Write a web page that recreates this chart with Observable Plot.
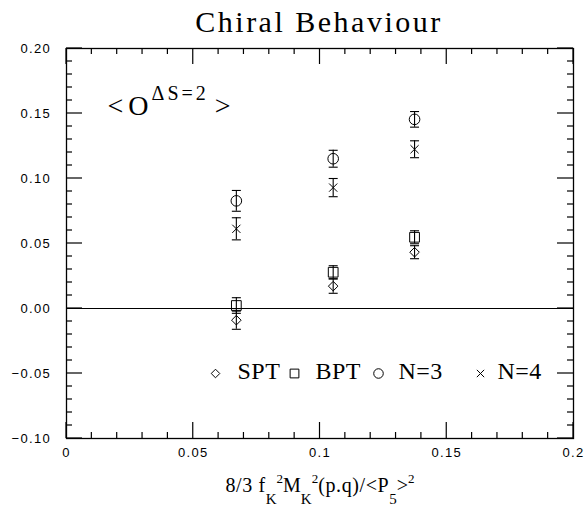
<!DOCTYPE html>
<html><head><meta charset="utf-8">
<script src="https://cdn.jsdelivr.net/npm/d3@7"></script>
<script src="https://cdn.jsdelivr.net/npm/@observablehq/plot@0.6"></script>
<style>body{margin:0;background:#fff} svg{display:block}</style>
</head><body><div id="chart"></div>
<script>
const xValues = [0.0670, 0.1052, 0.1373];
const sptValues = [-0.009, 0.0172, 0.0433];
const sptErrors = [0.007, 0.0055, 0.005];
const bptValues = [0.0023, 0.0279, 0.0548];
const bptErrors = [0.006, 0.005, 0.005];
const n3Values = [0.0828, 0.1152, 0.1455];
const n3Errors = [0.008, 0.0065, 0.006];
const n4Values = [0.0613, 0.0930, 0.1225];
const n4Errors = [0.0085, 0.007, 0.0065];
const xTickValues = [0, 0.05, 0.1, 0.15, 0.2];
const xTickLabels = ["0", "0.05", "0.1", "0.15", "0.2"];
const xMinorTicks = [0.01, 0.02, 0.03, 0.04, 0.06, 0.07, 0.08, 0.09, 0.11, 0.12, 0.13, 0.14, 0.16, 0.17, 0.18, 0.19];
const yTickValues = [-0.1, -0.05, 0, 0.05, 0.1, 0.15, 0.2];
const yTickLabels = ["\u22120.10", "\u22120.05", "0.00", "0.05", "0.10", "0.15", "0.20"];
const yMinorTicks = [-0.09, -0.08, -0.07, -0.06, -0.04, -0.03, -0.02, -0.01, 0.01, 0.02, 0.03, 0.04, 0.06, 0.07, 0.08, 0.09, 0.11, 0.12, 0.13, 0.14, 0.16, 0.17, 0.18, 0.19];
const legendLabels = ["SPT", "BPT", "N=3", "N=4"];
const titleText = "Chiral Behaviour";
const xLabelKey = "8/3 fK2MK2(p.q)/<P5>2";
const insetKey = "<O\u0394S=2>";

const serif = "Liberation Serif, Times New Roman, serif";
const sans = "Liberation Sans, Arial, sans-serif";

const W = 585, H = 510, mL = 66, mR = 12, mT = 48, mB = 72;
const innerW = W - mL - mR, innerH = H - mT - mB;

const series = [
  {name: "SPT", symbol: "diamond2", r: 4.3, values: sptValues, errors: sptErrors},
  {name: "BPT", symbol: "square2", r: 6.2, values: bptValues, errors: bptErrors},
  {name: "N=3", symbol: "circle", r: 5.3, values: n3Values, errors: n3Errors},
  {name: "N=4", symbol: "times", r: 3.8, values: n4Values, errors: n4Errors}
];
const rows = series.flatMap(s => xValues.map((x, i) => ({series: s.name, x, y: s.values[i], err: s.errors[i]})));

const capSymbol = {draw(context, size) { const w = Math.sqrt(size / Math.PI); context.moveTo(-w, 0); context.lineTo(w, 0); }};

const marks = [];
marks.push(Plot.ruleY([0], {stroke: "black", strokeWidth: 1.2}));
marks.push(Plot.frame({stroke: "black", strokeWidth: 1.3}));
// tick labels
marks.push(Plot.text(xTickValues, {x: d => d, text: (d, i) => xTickLabels[i], frameAnchor: "bottom", lineAnchor: "top", dy: 9, fontSize: 13, fontFamily: sans, fill: "black"}));
marks.push(Plot.text(yTickValues, {y: d => d, text: (d, i) => yTickLabels[i], frameAnchor: "left", lineAnchor: "middle", textAnchor: "end", dx: -15.5, fontSize: 13, fontFamily: sans, fill: "black"}));
// error bars
marks.push(Plot.ruleX(rows, {x: "x", y1: d => d.y - d.err, y2: d => d.y + d.err, stroke: "black", strokeWidth: 1.1}));
marks.push(Plot.dot(rows, {x: "x", y: d => d.y + d.err, symbol: capSymbol, r: 4.5, stroke: "black", fill: "none", strokeWidth: 1.1}));
marks.push(Plot.dot(rows, {x: "x", y: d => d.y - d.err, symbol: capSymbol, r: 4.5, stroke: "black", fill: "none", strokeWidth: 1.1}));
// markers
for (const s of series) {
  marks.push(Plot.dot(rows.filter(d => d.series === s.name), {x: "x", y: "y", symbol: s.symbol, r: s.r, stroke: "black", fill: "none", strokeWidth: 1}));
}
// legend
const legendSymbolDx = [149, 228, 312, 414];
const legendTextDx = [171, 249, 332, 431];
series.forEach((s, i) => {
  marks.push(Plot.dot([legendLabels[i]], {frameAnchor: "bottom-left", dx: legendSymbolDx[i], dy: -65, symbol: s.symbol, r: s.r * 0.9, stroke: "black", fill: "none", strokeWidth: 1}));
  marks.push(Plot.text([legendLabels[i]], {frameAnchor: "bottom-left", lineAnchor: "middle", dx: legendTextDx[i], dy: -67, text: d => d, textAnchor: "start", fontSize: 24, fontFamily: serif, fill: "black"}));
});
// title, inset label, axis label
marks.push(Plot.text([titleText], {frameAnchor: "top", lineAnchor: "middle", dx: -1, dy: -26, text: d => d, fontSize: 30, fontFamily: serif, fill: "black"}));
marks.push(Plot.text([insetKey], {frameAnchor: "top-left", lineAnchor: "middle", dx: 41, dy: 58, text: d => d, textAnchor: "start", fontSize: 28, fontFamily: serif, fill: "black"}));
marks.push(Plot.text([xLabelKey], {frameAnchor: "bottom", lineAnchor: "middle", dx: 0, dy: 47, text: d => d, fontSize: 20, fontFamily: serif, fill: "black"}));

const svg = Plot.plot({
  width: W, height: H,
  marginLeft: mL, marginRight: mR, marginTop: mT, marginBottom: mB,
  x: {domain: [0, 0.2], axis: null},
  y: {domain: [-0.1, 0.2], axis: null},
  style: {background: "white", color: "black"},
  marks
});

// inward ticks on all four sides, positioned through Plot's own scales
(function addTicks() {
  let fx, fy;
  try { const sx = svg.scale("x"), sy = svg.scale("y"); fx = v => sx.apply(v); fy = v => sy.apply(v); }
  catch (e) { fx = d3.scaleLinear([0, 0.2], [mL, W - mR]); fy = d3.scaleLinear([-0.1, 0.2], [H - mB, mT]); }
  const g = d3.select(svg).append("g").attr("stroke", "black").attr("stroke-width", 1.2).attr("aria-label", "ticks");
  for (const [vals, len] of [[xTickValues, 16], [xMinorTicks, 6]]) {
    for (const v of vals) {
      const px = fx(v);
      g.append("line").attr("x1", px).attr("x2", px).attr("y1", H - mB).attr("y2", H - mB - len);
      g.append("line").attr("x1", px).attr("x2", px).attr("y1", mT).attr("y2", mT + len);
    }
  }
  for (const [vals, len] of [[yTickValues, 16], [yMinorTicks, 6]]) {
    for (const v of vals) {
      const py = fy(v);
      g.append("line").attr("y1", py).attr("y2", py).attr("x1", mL).attr("x2", mL + len);
      g.append("line").attr("y1", py).attr("y2", py).attr("x1", W - mR).attr("x2", W - mR - len);
    }
  }
})();

const allText = () => d3.select(svg).selectAll("text");
allText().filter(function() { return this.textContent === titleText; }).attr("letter-spacing", "2.5px");
allText().filter(function() { return xTickLabels.includes(this.textContent) || yTickLabels.includes(this.textContent); }).attr("letter-spacing", "1.3px");
allText().filter(function() { return legendLabels.includes(this.textContent); }).attr("letter-spacing", "0.5px");

function rich(key, parts, main) {
  allText().filter(function() { return this.textContent === key; }).each(function() {
    const t = d3.select(this);
    t.text(null);
    let cur = 0;
    for (const p of parts) {
      const shift = p.shift || 0;
      const ts = t.append("tspan").text(p.t).attr("font-size", p.size || main);
      const dy = shift - cur;
      if (dy) ts.attr("dy", dy);
      if (p.dx) ts.attr("dx", p.dx);
      if (p.ls) ts.attr("letter-spacing", p.ls);
      cur = shift;
    }
  });
}
rich(xLabelKey, [
  {t: "8/3 f", ls: "0.6px"}, {t: "K", size: 15, shift: 12}, {t: "2", size: 13, shift: -9},
  {t: "M"}, {t: "K", size: 15, shift: 12}, {t: "2", size: 13, shift: -9},
  {t: "(p.q)/<P", ls: "0.6px"}, {t: "5", size: 15, shift: 12}, {t: ">"}, {t: "2", size: 13, shift: -9}
], 20);
rich(insetKey, [
  {t: "<"}, {t: "O", dx: 5}, {t: "\u0394S=2", size: 20, shift: -15, dx: 3, ls: "3px"}, {t: ">", dx: 6}
], 28);

document.getElementById("chart").appendChild(svg);
</script>
</body></html>
